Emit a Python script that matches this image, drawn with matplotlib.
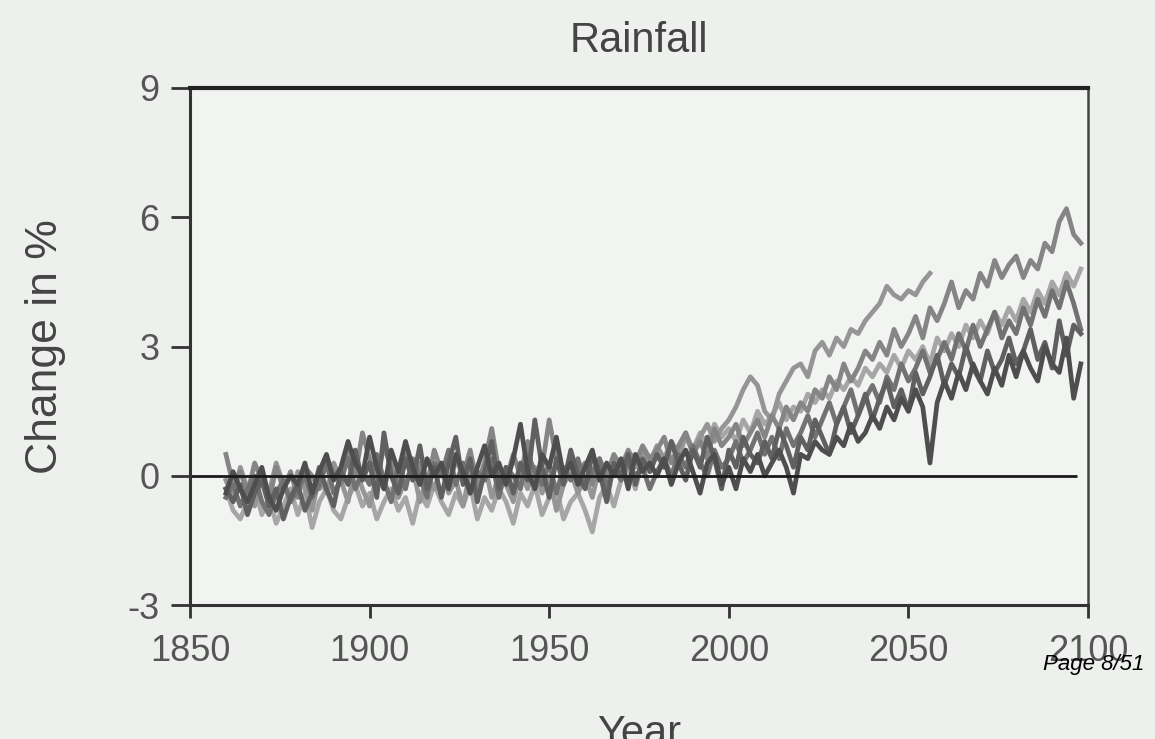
import numpy as np
import matplotlib
matplotlib.use("Agg")
import matplotlib.pyplot as plt

# годы: шаг 2 года, 1860-2098
years = np.arange(1860, 2100, 2)
years_short = np.arange(1860, 2058, 2)  # одна модель заканчивается в 2056

run_a = [-0.4, 0.1, -0.3, -0.6, -0.2, 0.2, -0.5, -0.8, -0.3, 0.0,
         -0.2, 0.3, -0.4, 0.1, 0.5, -0.1, 0.2, 0.8, 0.3, 0.0,
         0.9, 0.2, -0.3, 0.6, 0.1, 0.8, 0.2, -0.2, 0.4, 0.0,
         0.3, -0.3, 0.5, 0.1, -0.4, 0.2, 0.7, 0.0, 0.3, -0.2,
         0.4, 1.2, 0.1, -0.3, 0.5, 0.2, 0.9, 0.0, 0.3, -0.2,
         0.2, 0.6, -0.1, 0.3, 0.0, 0.4, -0.3, 0.5, 0.1, 0.3,
         0.0, 0.4, -0.2, 0.3, 0.6, 0.1, -0.4, 0.3, 0.5, -0.2,
         0.2, -0.3, 0.4, 0.1, 0.5, 0.0, 0.3, 0.6, 0.2, -0.4,
         0.5, 0.4, 0.8, 0.6, 0.5, 0.9, 0.7, 1.2, 0.8, 1.0,
         1.4, 1.1, 1.6, 1.3, 1.8, 1.5, 2.0, 1.6, 0.3, 1.7,
         2.2, 1.8, 2.4, 2.0, 2.6, 2.2, 1.9, 2.5, 2.1, 2.8,
         2.3, 2.9, 2.5, 2.2, 3.0, 2.6, 2.4, 3.2, 1.8, 2.6]

run_b = [-0.3, -0.6, -0.2, -0.9, -0.4, -0.1, -0.7, -0.3, -1.0, -0.5,
         -0.2, -0.8, -0.4, 0.2, -0.3, -0.7, 0.1, -0.2, 0.6, -0.1,
         0.3, -0.5, 1.0, 0.0, -0.4, 0.4, -0.1, 0.7, -0.3, 0.2,
         -0.5, 0.3, 0.9, -0.2, 0.4, -0.6, 0.1, 0.8, -0.3, 0.2,
         -0.4, 0.3, -0.1, 1.3, 0.2, -0.5, 0.4, -0.2, 0.6, 0.0,
         -0.3, 0.5, 0.1, -0.6, 0.3, 0.0, 0.5, -0.2, 0.4, 0.1,
         0.5, 0.2, 0.8, 0.3, -0.1, 0.6, 0.2, 0.9, 0.4, -0.3,
         0.6, 0.2, 0.9, 0.5, 0.3, 0.8, 0.4, 1.1, 0.7, 0.2,
         0.9, 0.6, 1.3, 0.9, 0.5, 1.2, 1.6, 1.0, 1.4, 1.9,
         1.3, 1.8, 2.2, 1.6, 2.0, 1.5, 2.4, 1.9, 2.3, 2.8,
         2.1, 2.6, 2.3, 3.0, 2.5, 2.2, 2.9, 2.4, 2.7, 3.2,
         2.6, 2.9, 3.4, 2.7, 3.1, 2.5, 3.6, 2.8, 3.5, 3.3]

run_c = [0.5, -0.2, 0.1, -0.4, 0.3, -0.1, -0.6, 0.2, -0.3, 0.1,
         -0.5, 0.2, 0.0, -0.3, 0.4, 0.1, -0.2, 0.6, 0.0, 1.0,
         0.4, -0.1, 0.7, 0.2, -0.4, 0.5, 0.0, 0.3, -0.2, 0.6,
         0.1, -0.3, 0.4, 0.0, 0.6, -0.2, 0.3, 1.1, 0.1, -0.1,
         0.5, 0.0, 0.8, -0.3, 0.2, 1.3, 0.4, -0.1, 0.5, 0.1,
         0.3, -0.2, 0.4, 0.0, 0.5, 0.2, 0.6, 0.3, 0.7, 0.4,
         0.6, 0.9, 0.3, 0.7, 1.0, 0.5, 0.8, 0.4, 1.1, 0.7,
         0.9, 1.2, 0.7, 1.0, 1.3, 0.9, 1.4, 1.1, 1.6, 1.3,
         1.7, 1.5, 2.0, 1.8, 2.3, 2.0, 2.6, 2.2, 2.5, 2.9,
         2.7, 3.1, 2.8, 3.4, 3.0, 3.3, 3.7, 3.2, 3.9, 3.6,
         4.0, 4.5, 3.9, 4.3, 4.1, 4.7, 4.4, 5.0, 4.6, 4.9,
         5.1, 4.6, 5.0, 4.8, 5.4, 5.2, 5.9, 6.2, 5.6, 5.4]

run_d = [-0.3, -0.8, -1.0, -0.6, -0.2, -0.9, -0.5, -1.1, -0.7, -0.3,
         -0.9, -0.4, -1.2, -0.6, -0.3, -0.8, -1.0, -0.5, -0.2, -0.7,
         -0.4, -1.0, -0.6, -0.3, -0.8, -0.5, -1.1, -0.4, -0.7, -0.2,
         -0.6, -0.9, -0.4, -0.7, -0.2, -1.0, -0.5, -0.8, -0.3, -0.6,
         -1.1, -0.4, -0.7, -0.2, -0.9, -0.5, -0.3, -1.0, -0.6, -0.4,
         -0.8, -1.3, -0.5, -0.2, -0.7, -0.1, 0.2, -0.3, 0.4, 0.1,
         0.5, 0.2, 0.7, 0.4, 0.9, 0.6, 1.0, 0.7, 1.2, 0.9,
         1.1, 0.8, 1.3, 1.0, 1.5, 1.2, 1.4, 1.7, 1.3, 1.6,
         1.5, 1.9, 1.7, 2.0, 1.8, 2.2, 2.0, 2.3, 2.1, 2.5,
         2.3, 2.6, 2.4, 2.8, 2.5, 2.9, 2.7, 3.0, 2.6, 3.2,
         2.9, 3.3, 3.0, 3.5, 3.2, 3.6, 3.3, 3.8, 3.5, 3.9,
         3.6, 4.1, 3.8, 4.3, 4.0, 4.5, 4.2, 4.7, 4.4, 4.8]

run_e = [-0.1, -0.5, 0.2, -0.3, -0.7, 0.0, -0.4, 0.3, -0.2, -0.6,
         0.1, -0.3, -0.8, 0.0, -0.4, 0.3, -0.1, -0.6, 0.2, -0.3,
         -0.7, 0.0, -0.3, 0.3, -0.5, -0.1, 0.2, -0.6, 0.0, -0.3,
         0.2, -0.4, -0.1, -0.7, 0.1, -0.3, 0.3, -0.5, 0.0, -0.2,
         -0.6, 0.1, -0.3, 0.2, -0.4, 0.0, -0.8, -0.2, 0.1, -0.4,
         0.0, -0.5, 0.2, -0.2, 0.3, 0.0, 0.5, 0.2, 0.6, 0.3,
         0.7, 0.4, 0.8, 0.5, 1.0, 0.6, 0.9, 1.2, 0.8, 1.1,
         1.3, 1.6, 2.0, 2.3, 2.1, 1.5, 1.3, 1.9, 2.2, 2.5,
         2.6, 2.3, 2.9, 3.1, 2.8, 3.2, 3.0, 3.4, 3.3, 3.6,
         3.8, 4.0, 4.4, 4.2, 4.1, 4.3, 4.2, 4.5, 4.7]

run_f = [-0.5, -0.2, -0.7, -0.3, 0.0, -0.6, -0.9, -0.4, -0.1, -0.6,
         -0.3, 0.0, -0.5, -0.2, 0.3, -0.4, -0.1, 0.4, -0.3, 0.1,
         -0.2, 0.5, -0.1, -0.6, 0.2, -0.3, 0.4, 0.0, -0.5, 0.3,
         0.0, 0.6, -0.2, 0.3, -0.4, 0.1, -0.1, 0.4, -0.5, 0.2,
         0.0, -0.3, 0.5, 0.1, -0.2, 0.3, -0.4, 0.2, -0.1, 0.4,
         -0.2, 0.1, 0.4, -0.3, 0.2, -0.1, 0.3, 0.0, 0.2, -0.3,
         0.1, 0.4, 0.0, 0.5, 0.2, 0.7, 0.3, 0.0, 0.6, 0.2,
         0.4, 0.8, 0.3, 0.6, 1.0, 0.5, 0.9, 0.4, 1.1, 0.7,
         1.0, 1.4, 0.9, 1.3, 1.7, 1.2, 1.6, 2.0, 1.4, 1.8,
         2.1, 1.7, 2.3, 2.0, 2.6, 2.2, 2.5, 2.9, 2.4, 2.7,
         3.1, 2.7, 3.3, 2.9, 3.5, 3.0, 3.4, 3.8, 3.2, 3.6,
         3.3, 3.9, 3.5, 4.1, 3.7, 4.3, 3.9, 4.5, 4.0, 3.4]

xticks = [1850, 1900, 1950, 2000, 2050, 2100]
yticks = [-3, 0, 3, 6, 9]

plt.rcParams['font.family'] = ['Liberation Sans', 'DejaVu Sans']
plt.rcParams['axes.unicode_minus'] = False

fig = plt.figure(figsize=(11.55, 7.39), dpi=100, facecolor='#edf0ed')
ax = fig.add_axes([0.1645, 0.181, 0.7775, 0.7])
ax.set_facecolor('#f2f4f2')

# рисуем прогоны моделей: светлые снизу, тёмные сверху
ax.plot(years, run_d, color='#a6a6a6', lw=3.4)
ax.plot(years_short, run_e, color='#959595', lw=3.4)
ax.plot(years, run_c, color='#858585', lw=3.4)
ax.plot(years, run_f, color='#727272', lw=3.4)
ax.plot(years, run_b, color='#606060', lw=3.4)
ax.plot(years, run_a, color='#4e4e4e', lw=3.4)

ax.hlines(0, 1850, 2097, color='#1a1a1a', lw=2)

ax.set_xlim(1850, 2100)
ax.set_ylim(-3, 9)
ax.set_xticks(xticks)
ax.set_yticks(yticks)
ax.tick_params(axis='both', direction='out', colors='#333333', labelcolor='#555555',
               labelsize=26, width=2)
ax.tick_params(axis='x', length=9, pad=12)
ax.tick_params(axis='y', length=14, pad=8)

for side in ['left', 'bottom']:
    ax.spines[side].set_color('#333333')
    ax.spines[side].set_linewidth(2.2)
ax.spines['top'].set_color('#222222')
ax.spines['top'].set_linewidth(3)
ax.spines['right'].set_color('#444444')
ax.spines['right'].set_linewidth(1.8)

ax.set_title("Rainfall", fontsize=30, color='#444444', pad=26)
ax.set_ylabel("Change in %", fontsize=32, color='#444444', labelpad=44)
ax.set_xlabel("Year", fontsize=30, color='#444444', labelpad=32)

fig.text(0.991, 0.093, "Page 8/51", fontsize=16, style='italic', color='black', ha='right')

fig.savefig("out.png", dpi=100, facecolor=fig.get_facecolor())
